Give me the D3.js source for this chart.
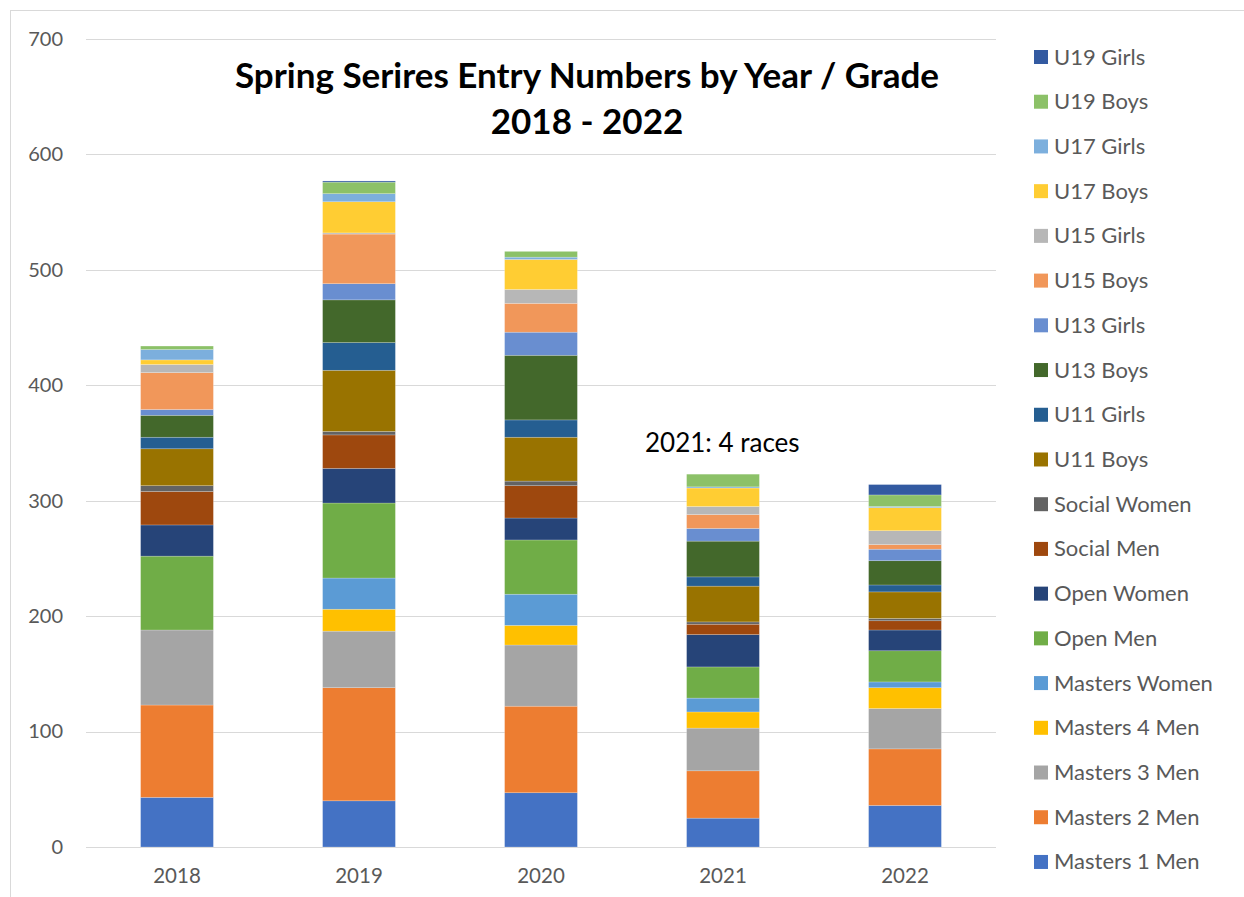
<!DOCTYPE html>
<html>
<head>
<meta charset="utf-8">
<script src="https://cdn.jsdelivr.net/npm/d3@7"></script>
<style>
  body { margin: 0; background: #fff; }
  text { font-family: Lato, "Open Sans", sans-serif; }
</style>
</head>
<body>
<script>
var width = 1244, height = 897;

// data
var years = ["2018", "2019", "2020", "2021", "2022"];
var grades = ["Masters 1 Men", "Masters 2 Men", "Masters 3 Men", "Masters 4 Men", "Masters Women",
  "Open Men", "Open Women", "Social Men", "Social Women", "U11 Boys", "U11 Girls",
  "U13 Boys", "U13 Girls", "U15 Boys", "U15 Girls", "U17 Boys", "U17 Girls", "U19 Boys", "U19 Girls"];
var colors = ["#4472c4", "#ed7d31", "#a5a5a5", "#ffc000", "#5b9bd5",
  "#70ad47", "#264478", "#9e480e", "#636363", "#997300", "#255e91",
  "#43682b", "#698ed0", "#f1975a", "#b7b7b7", "#ffcd33", "#7cafdd", "#8cc168", "#335aa1"];
// one array per year, values in grade order
var v2018 = [43, 80, 65, 0, 0, 64, 27, 29, 5, 32, 10, 19, 5, 32, 7, 4, 9, 3, 0];
var v2019 = [40, 98, 49, 19, 27, 65, 30, 29, 3, 53, 24, 37, 14, 43, 1, 27, 7, 10, 1];
var v2020 = [47, 75, 53, 17, 27, 47, 19, 28, 4, 38, 15, 56, 20, 25, 12, 26, 2, 5, 0];
var v2021 = [25, 41, 37, 14, 12, 27, 28, 9, 2, 31, 8, 31, 11, 12, 7, 16, 1, 11, 0];
var v2022 = [36, 49, 35, 18, 5, 27, 18, 8, 2, 23, 6, 21, 10, 4, 12, 20, 1, 10, 9];
var yTicks = [0, 100, 200, 300, 400, 500, 600, 700];

var byYear = [v2018, v2019, v2020, v2021, v2022];
var table = years.map(function(y, i) {
  var row = {year: y};
  grades.forEach(function(g, j) { row[g] = byYear[i][j]; });
  return row;
});

var svg = d3.select("body").append("svg").attr("width", width).attr("height", height);

// chart frame
svg.append("rect").attr("x", 10.5).attr("y", 10.5).attr("width", 1300).attr("height", 1000)
  .attr("fill", "#fff").attr("stroke", "#d9d9d9").attr("stroke-width", 1);

var x = d3.scaleBand().domain(years).range([86, 996]).paddingInner(0.6).paddingOuter(0.3);
var y = d3.scaleLinear().domain([0, 700]).range([847, 39]);

// gridlines
svg.append("g").selectAll("line").data(yTicks).join("line")
  .attr("x1", 86).attr("x2", 996)
  .attr("y1", function(d) { return Math.round(y(d)) + 0.5; })
  .attr("y2", function(d) { return Math.round(y(d)) + 0.5; })
  .attr("stroke", "#d9d9d9").attr("stroke-width", 1);

var yAxis = svg.append("g").attr("transform", "translate(86,0)")
  .call(d3.axisLeft(y).tickValues(yTicks).tickSize(0).tickPadding(23));
yAxis.select(".domain").remove();
yAxis.selectAll("text").attr("font-size", 20).attr("fill", "#595959")
  .style("font-family", "Lato, 'Open Sans', sans-serif");

var xAxis = svg.append("g").attr("transform", "translate(0,847)")
  .call(d3.axisBottom(x).tickSize(0).tickPadding(21));
xAxis.select(".domain").remove();
xAxis.selectAll("text").attr("font-size", 20.5).attr("fill", "#595959")
  .style("font-family", "Lato, 'Open Sans', sans-serif");

var stack = d3.stack().keys(grades)(table);

svg.append("g").selectAll("g").data(stack).join("g")
  .attr("fill", function(d, i) { return colors[i]; })
  .selectAll("rect").data(function(d) { return d; }).join("rect")
  .attr("x", function(d) { return x(d.data.year); })
  .attr("width", x.bandwidth())
  .attr("y", function(d) { return y(d[1]); })
  .attr("height", function(d) { return y(d[0]) - y(d[1]); })
  .attr("stroke", "#fff").attr("stroke-opacity", 0.35).attr("stroke-width", 0.6);

// title
var title = svg.append("text").attr("x", 587).attr("y", 88).attr("text-anchor", "middle")
  .attr("font-size", 35).attr("font-weight", "bold").attr("fill", "#000");
title.append("tspan").attr("x", 587).text("Spring Serires Entry Numbers by Year / Grade");
title.append("tspan").attr("x", 587).attr("dy", 46).text("2018 - 2022");

svg.append("text").attr("x", 645).attr("y", 452).attr("font-size", 26).attr("fill", "#000")
  .text("2021: 4 races");

// legend, top item is the last grade
var legend = svg.append("g").selectAll("g").data(grades.slice().reverse()).join("g")
  .attr("transform", function(d, i) { return "translate(1034," + (57 + i * 44.72) + ")"; });
legend.append("rect").attr("x", 0).attr("y", -7).attr("width", 14).attr("height", 14)
  .attr("fill", function(d) { return colors[grades.indexOf(d)]; });
legend.append("text").attr("x", 20).attr("y", 7.5).attr("font-size", 22).attr("fill", "#595959")
  .text(function(d) { return d; });
</script>
</body>
</html>
